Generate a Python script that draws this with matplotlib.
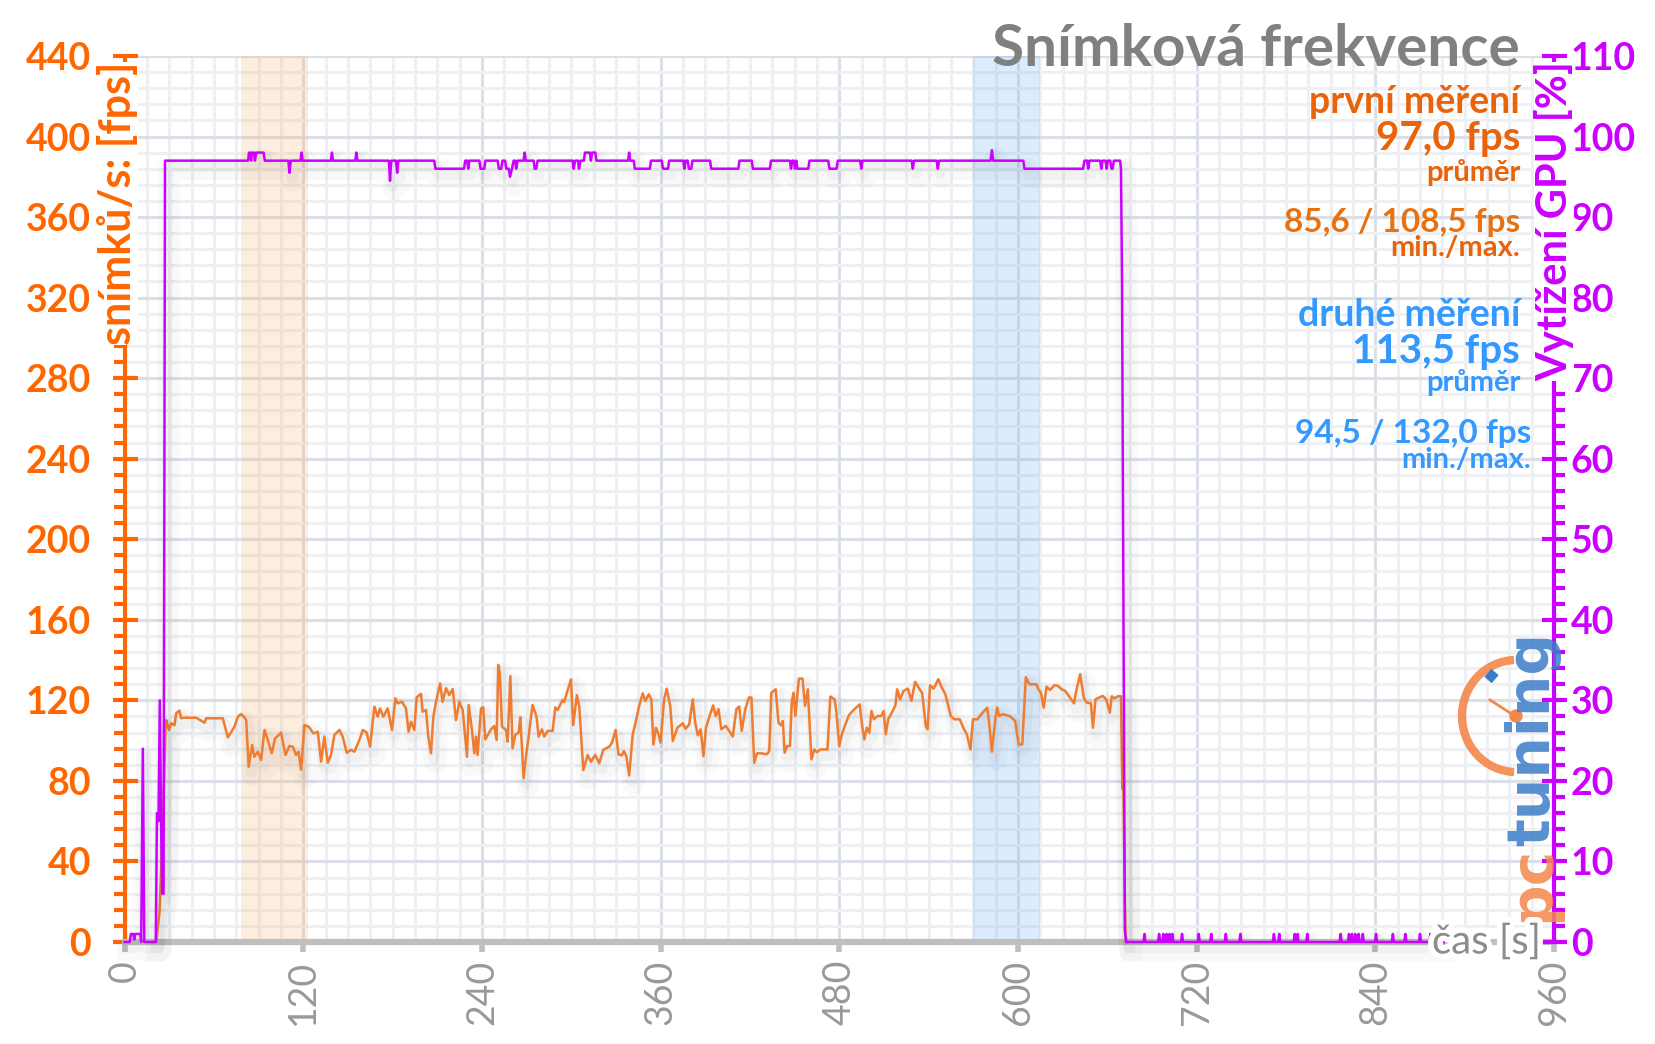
import matplotlib
matplotlib.use("Agg")
import matplotlib.pyplot as plt
import matplotlib.patheffects as pe
from matplotlib.patches import Arc, Circle
from matplotlib.ticker import MultipleLocator

plt.rcParams["font.family"] = ["Lato", "DejaVu Sans"]

# DATA
fps_time = [19.5, 21.3, 23.5, 24.4, 26.0, 27.6, 28.0, 29.8, 31.3, 33.6, 34.7, 36.9, 38.0, 40.3, 48.1,
            53.7, 54.8, 66.0, 69.4, 73.8, 76.1, 78.3, 80.1, 81.7, 83.4, 85.7, 87.2, 89.5, 91.7, 94.0,
            96.2, 98.9, 101.1, 105.1, 108.1, 110.7, 113.0, 115.2, 116.8, 118.6, 120.8, 123.7, 126.8,
            129.8, 132.0, 134.2, 136.5, 138.7, 140.9, 144.3, 146.5, 149.2, 152.1, 154.4, 157.7, 160.0,
            162.6, 164.9, 167.8, 170.0, 171.6, 173.8, 176.7, 179.6, 181.9, 183.4, 186.4, 189.0, 190.8,
            192.4, 194.6, 196.2, 199.1, 200.2, 202.5, 204.0, 205.8, 207.4, 209.2, 211.9, 213.6, 215.9,
            218.1, 220.4, 222.6, 224.8, 227.1, 230.0, 231.1, 233.3, 234.9, 236.0, 237.1, 239.4, 240.9,
            242.3, 246.1, 248.3, 249.9, 251.0, 252.1, 253.5, 256.2, 257.3, 259.1, 260.6, 262.4, 264.7,
            265.8, 268.0, 269.6, 271.4, 274.0, 276.7, 278.1, 280.3, 281.9, 284.1, 287.5, 289.3, 290.8,
            294.2, 295.3, 299.8, 301.3, 303.8, 305.4, 308.1, 311.0, 313.2, 316.1, 318.8, 321.5, 325.5,
            327.4, 329.8, 331.7, 334.1, 335.3, 337.0, 338.9, 341.3, 343.2, 345.6, 348.0, 349.7, 352.1,
            353.8, 355.2, 356.9, 358.6, 360.0, 362.4, 364.1, 366.5, 368.2, 371.3, 374.9, 376.8, 379.2,
            381.6, 383.3, 385.0, 386.9, 388.8, 390.5, 392.9, 395.3, 397.0, 398.9, 400.8, 403.7, 406.1,
            408.5, 410.9, 412.8, 414.5, 416.9, 419.3, 421.0, 422.9, 424.8, 427.7, 431.3, 433.0, 434.4,
            437.3, 439.2, 440.9, 442.1, 443.3, 445.0, 446.9, 448.1, 449.3, 450.5, 452.9, 455.3, 457.0,
            458.9, 461.3, 463.2, 464.9, 467.3, 472.1, 474.0, 476.9, 478.1, 480.0, 481.7, 484.1, 486.5,
            488.9, 491.3, 493.7, 495.4, 496.8, 498.5, 500.2, 501.6, 503.3, 505.7, 508.1, 509.8, 511.2,
            512.9, 515.3, 517.7, 518.9, 520.8, 523.2, 526.1, 528.5, 530.9, 533.3, 535.7, 538.1, 539.3,
            541.0, 543.4, 546.5, 548.9, 551.3, 554.9, 557.3, 560.9, 563.3, 565.7, 568.1, 569.8, 572.9,
            575.3, 579.4, 580.8, 582.5, 584.9, 586.1, 587.3, 589.7, 594.5, 598.1, 599.3, 600.5, 602.9,
            605.3, 607.7, 610.1, 612.5, 613.7, 615.4, 617.3, 619.2, 621.6, 624.5, 626.9, 629.3, 631.7,
            634.1, 637.7, 638.9, 641.8, 644.2, 646.1, 649.0, 650.4, 652.1, 654.5, 656.9, 659.3, 661.7,
            663.0, 665.0, 667.0, 669.2, 669.8, 670.2, 670.6, 671.5, 672.2, 673.0]
fps_value = [0, 0, 15, 31, 65, 108, 110.2, 105.3, 108.6, 107.7, 113.6, 114.9, 111.1, 111.4, 111.4,
             108.9, 111.1, 111.1, 101.6, 106.9, 111.9, 113.2, 111.9, 110.2, 87.1, 97.8, 92.0, 94.5, 90.4, 105.3,
             100.3, 93.7, 101.1, 104.0, 92.9, 97.3, 97.0, 92.9, 94.5, 85.6, 107.7, 106.9, 103.6,
             104.4, 89.5, 102.0, 89.0, 92.9, 102.8, 105.3, 102.0, 94.0, 95.4, 94.5, 100.3, 105.3,
             104.0, 97.0, 116.9, 111.9, 116.0, 111.9, 116.0, 105.3, 121.0, 118.5, 119.3, 116.0, 104.4,
             109.4, 105.3, 121.5, 123.2, 114.4, 115.2, 102.0, 93.7, 111.9, 119.3, 128.4, 119.3, 126.0,
             122.6, 125.6, 110.2, 119.3, 115.2, 92.0, 117.7, 105.3, 93.7, 102.0, 92.9, 116.0, 116.5,
             100.6, 105.6, 107.3, 100.3, 137.6, 133.4, 106.9, 105.3, 99.5, 132.1, 96.2, 102.8, 104.0,
             111.6, 81.3, 92.0, 102.0, 117.7, 111.9, 102.0, 105.6, 102.0, 104.8, 104.8, 116.5, 115.2,
             120.2, 119.3, 130.4, 107.7, 122.6, 116.9, 85.4, 92.9, 89.5, 92.9, 88.7, 95.4, 97.0,
             99.0, 105.3, 93.2, 92.7, 94.8, 92.3, 82.7, 103.1, 108.9, 117.2, 123.5, 119.7, 123.0,
             120.5, 98.1, 106.4, 103.1, 99.0, 120.5, 125.8, 117.2, 99.8, 106.4, 108.6, 105.9, 108.0,
             120.5, 108.9, 102.6, 105.6, 92.3, 106.4, 112.2, 117.5, 112.2, 115.6, 105.6, 107.3, 104.8,
             102.0, 115.6, 116.9, 104.8, 115.6, 121.4, 121.4, 89.0, 93.7, 93.7, 93.2, 94.8, 123.8,
             125.5, 108.9, 107.6, 109.8, 94.0, 97.3, 97.3, 118.9, 123.8, 112.2, 130.8, 130.8, 117.2,
             125.5, 90.7, 95.6, 94.3, 95.6, 95.6, 121.9, 120.5, 113.9, 97.3, 103.1, 108.0, 112.6,
             114.7, 116.4, 118.0, 107.3, 100.6, 106.4, 103.9, 114.7, 110.6, 112.2, 112.2, 114.7, 103.1,
             110.6, 113.9, 117.5, 125.5, 120.5, 124.7, 125.8, 119.7, 129.2, 126.3, 123.5, 107.3, 105.6,
             127.5, 125.8, 130.5, 126.3, 123.0, 112.2, 110.6, 110.6, 106.4, 103.1, 95.6, 110.6, 110.6,
             113.1, 116.4, 108.0, 94.5, 111.4, 116.4, 112.2, 113.1, 112.2, 109.8, 104.0, 98.1, 98.1,
             131.5, 128.0, 128.0, 128.0, 125.5, 123.8, 116.4, 126.8, 125.2, 127.5, 127.2, 125.5, 124.7,
             122.2, 118.5, 123.8, 133.0, 121.4, 118.9, 118.5, 106.4, 120.5, 121.4, 122.2, 120.5, 113.9,
             122.0, 121.0, 122.0, 122.0, 91.0, 76.0, 90.0, 38.0, 4.0, 0.0]

gpu_time = [0, 3.5, 4.3, 5.8, 6.5, 7.2, 10.5, 11.2, 12.3, 13.3, 21.0, 21.8, 22.8, 23.7, 24.6, 25.3,
            26.2, 27.2, 83.0, 83.6, 84.4, 85.0, 85.6, 87.0, 87.6, 88.4, 93.4, 94.2, 110.0, 110.8,
            111.6, 118.2, 118.9, 119.6, 138.6, 139.3, 140.0, 155.0, 155.7, 156.4, 177.5, 178.3, 179.1,
            182.3, 183.1, 183.9, 208.0, 208.8, 228.0, 228.8, 230.2, 230.8, 231.6, 238.3, 239.1, 241.6,
            242.4, 250.6, 251.4, 253.0, 253.8, 255.6, 256.4, 258.0, 258.9, 260.2, 261.3, 262.4, 263.0,
            264.0, 268.0, 268.7, 269.5, 274.8, 275.4, 276.5, 277.4, 301.0, 301.6, 302.6, 304.6, 305.2,
            306.2, 308.5, 309.2, 312.5, 313.2, 314.0, 316.2, 316.9, 338.2, 338.9, 339.6, 342.0, 342.7,
            352.8, 353.6, 360.8, 361.6, 365.0, 365.8, 375.2, 376.0, 376.8, 378.2, 379.0, 380.6, 381.4,
            393.2, 394.0, 412.2, 413.0, 421.2, 422.0, 433.4, 434.2, 446.8, 447.6, 448.4, 449.4, 450.2,
            451.2, 451.8, 459.2, 460.0, 472.6, 473.4, 478.2, 479.0, 494.0, 494.8, 495.6, 528.6, 529.4,
            530.2, 545.4, 546.2, 547.0, 581.6, 582.5, 583.4, 603.6, 604.4, 643.8, 644.6, 646.4, 647.2,
            648.0, 655.2, 656.0, 656.8, 658.8, 659.6, 660.4, 662.0, 662.8, 663.6, 664.4, 668.6, 669.2,
            669.9, 671.8, 672.6]
gpu_value = [0, 0, 1, 1, 0.3, 1, 1, 0, 24, 0, 0, 16, 15, 30, 14, 6,
             6, 97, 97, 98, 98, 97, 98, 98, 97, 98, 98, 97, 97, 95.5,
             97, 97, 98, 97, 97, 98, 97, 97, 98, 97, 97, 94.5, 97,
             97, 95.5, 97, 97, 96, 96, 97, 97, 96, 97, 97, 96, 96,
             97, 97, 96, 96, 97, 97, 96, 96, 95, 96, 97, 97, 96,
             97, 97, 98, 97, 97, 96, 96, 97, 97, 96, 97, 97, 96,
             97, 97, 98, 98, 97, 98, 98, 97, 97, 98, 97, 97, 96,
             96, 97, 97, 96, 96, 97, 97, 96, 97, 97, 96, 96, 97,
             97, 96, 96, 97, 97, 96, 96, 97, 97, 96, 97, 97, 96,
             97, 96, 96, 97, 97, 96, 96, 97, 97, 96, 97, 97, 96,
             97, 97, 96, 97, 97, 98.3, 97, 97, 96, 96, 97, 97, 96,
             97, 97, 96, 97, 97, 96, 97, 97, 96, 96, 97, 97, 96,
             82, 1.5, 0]
idle_spike_time = [685.0, 694.8, 697.6, 699.8, 701.8, 703.7, 710.2, 721.4, 729.8, 739.6, 749.4,
                   771.9, 775.5, 785.9, 787.8, 794.3, 816.7, 822.3, 824.3, 826.5, 828.8, 831.6,
                   840.5, 851.8, 860.2, 870.0, 877.0]
idle_end = 886.0

band_first = (78.5, 123.5)
band_second = (570.0, 615.0)

first_lines = ["první měření", "97,0 fps", "průměr", "85,6 / 108,5 fps", "min./max."]
second_lines = ["druhé měření", "113,5 fps", "průměr", "94,5 / 132,0 fps", "min./max."]

x_ticks = list(range(0, 961, 120))
fps_ticks = list(range(0, 441, 40))
gpu_ticks = list(range(0, 111, 10))

# idle part of GPU load: flat zero with short 1 % blips
gpu_t = list(gpu_time)
gpu_v = list(gpu_value)
for s in idle_spike_time:
    gpu_t += [s - 0.7, s, s + 0.7]
    gpu_v += [0, 1, 0]
gpu_t.append(idle_end)
gpu_v.append(0)

ORANGE = "#ff6600"
PURPLE = "#cc00ff"
GRAY = "#bfbfbf"

fig = plt.figure(figsize=(16.56, 10.44), dpi=100)
ax = fig.add_axes([0.0752, 0.0977, 0.8632, 0.8487])
ax2 = ax.twinx()

ax.set_xlim(0, 960)
ax.set_ylim(0, 440)
ax2.set_ylim(0, 110)

# grid
ax.set_axisbelow(True)
ax.xaxis.set_minor_locator(MultipleLocator(15))
ax.yaxis.set_minor_locator(MultipleLocator(8))
ax2.yaxis.set_minor_locator(MultipleLocator(2))
ax.grid(which="major", color="#dbdfe7", lw=2.2)
ax.grid(which="minor", color="#eef0f4", lw=2.2)

ax.axvspan(*band_first, color="#f5b478", alpha=0.24, lw=0, zorder=1)
ax.axvspan(*band_second, color="#78b4f5", alpha=0.25, lw=0, zorder=1)

shadow = [pe.SimpleLineShadow(offset=(3, -6), shadow_color="k", alpha=0.025, linewidth=16),
          pe.SimpleLineShadow(offset=(2, -4), shadow_color="k", alpha=0.03, linewidth=8),
          pe.Normal()]

ax.plot(fps_time, fps_value, color="#ee7d31", lw=1.8, zorder=3, clip_on=False,
        path_effects=shadow)
ax2.plot(gpu_t, gpu_v, color=PURPLE, lw=1.8, zorder=3, clip_on=False,
         path_effects=shadow)

# spines
for a in (ax, ax2):
    a.spines["top"].set_visible(False)
ax.spines["right"].set_visible(False)
ax2.spines["left"].set_visible(False)
ax2.spines["bottom"].set_visible(False)
ax.spines["left"].set_color(ORANGE)
ax.spines["left"].set_linewidth(3)
ax2.spines["right"].set_color(PURPLE)
ax2.spines["right"].set_linewidth(3)
ax.spines["bottom"].set_color(GRAY)
ax.spines["bottom"].set_linewidth(4.5)
ax.spines["bottom"].set_zorder(2.5)

ax.set_xticks(x_ticks)
ax.set_xticklabels([str(v) for v in x_ticks], rotation=90, color="#999999", fontsize=27)
ax.tick_params(axis="x", which="major", color=GRAY, width=4, length=7, pad=6)
ax.tick_params(axis="x", which="minor", length=0)

ax.set_yticks(fps_ticks)
ax.set_yticklabels([str(v) for v in fps_ticks], color=ORANGE, fontsize=27, fontweight="bold")
ax.tick_params(axis="y", which="major", color=ORANGE, width=3, length=18, direction="inout", pad=15)
ax.tick_params(axis="y", which="minor", color=ORANGE, width=3, length=8, direction="out")

ax2.set_yticks(gpu_ticks)
ax2.set_yticklabels([str(v) for v in gpu_ticks], color=PURPLE, fontsize=27, fontweight="bold")
ax2.tick_params(axis="y", which="major", color=PURPLE, width=3, length=18, direction="inout", pad=3)
ax2.tick_params(axis="y", which="minor", color=PURPLE, width=3, length=8, direction="out")

# axis titles
fig.text(0.0712, 0.941, "snímků/s: [fps]", rotation=90, ha="center", va="top",
         color=ORANGE, fontsize=31, fontweight="bold",
         bbox=dict(facecolor="white", edgecolor="none", pad=0))
fig.text(0.9385, 0.941, "Vytížení GPU [%]", rotation=90, ha="center", va="top",
         color=PURPLE, fontsize=30, fontweight="bold",
         bbox=dict(facecolor="white", edgecolor="none", pad=0))
fig.text(0.9305, 0.0977, "čas [s]", ha="right", va="center", color="#8c8c8c", fontsize=29,
         zorder=10, path_effects=[pe.withStroke(linewidth=8, foreground="white")])

# title and summary
fig.text(0.918, 0.953, "Snímková frekvence", ha="right", va="center", color="#808080",
         fontsize=42, fontweight="bold")

c1 = "#e8630a"
fig.text(0.918, 0.902, first_lines[0], ha="right", va="center", color=c1, fontsize=27, fontweight="bold")
fig.text(0.918, 0.867, first_lines[1], ha="right", va="center", color=c1, fontsize=29, fontweight="bold")
fig.text(0.918, 0.835, first_lines[2], ha="right", va="center", color=c1, fontsize=21, fontweight="bold")
fig.text(0.918, 0.787, first_lines[3], ha="right", va="center", color="#e87212", fontsize=24, fontweight="bold")
fig.text(0.918, 0.762, first_lines[4], ha="right", va="center", color=c1, fontsize=21, fontweight="bold")

c2 = "#3399ff"
fig.text(0.918, 0.698, second_lines[0], ha="right", va="center", color=c2, fontsize=27, fontweight="bold")
fig.text(0.918, 0.663, second_lines[1], ha="right", va="center", color=c2, fontsize=29, fontweight="bold")
fig.text(0.918, 0.634, second_lines[2], ha="right", va="center", color=c2, fontsize=21, fontweight="bold")
fig.text(0.9245, 0.585, second_lines[3], ha="right", va="center", color=c2, fontsize=24, fontweight="bold")
fig.text(0.9245, 0.559, second_lines[4], ha="right", va="center", color=c2, fontsize=21, fontweight="bold")

# pctuning watermark, drawn in pixel space
logo = fig.add_axes([0, 0, 1, 1], zorder=5)
logo.set_xlim(0, 1656)
logo.set_ylim(1044, 0)
logo.axis("off")
logo.add_patch(Arc((1516, 716), 108, 112, theta1=92, theta2=268, lw=6, color="#f4874b", alpha=0.9))
logo.plot([1490, 1515], [700, 716], color="#f4874b", lw=2)
logo.add_patch(Circle((1516, 716), 6, color="#f4874b"))
logo.plot([1488, 1495], [680, 672], color="#3b7dc8", lw=7, solid_capstyle="butt")
logo.text(1533, 846, "tuning", rotation=90, ha="center", va="bottom", color="#3b7dc8",
          fontsize=42, fontweight="bold", family="DejaVu Sans", alpha=0.85)
logo.text(1533, 846, "pc", rotation=90, ha="center", va="top", color="#f4874b",
          fontsize=42, fontweight="bold", family="DejaVu Sans", alpha=0.85)

fig.savefig("out.png", dpi=100)
